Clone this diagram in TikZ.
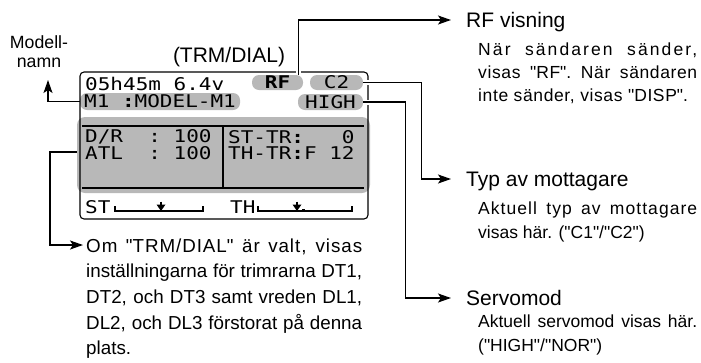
\documentclass[tikz,border=0pt]{standalone}
\usepackage{fontspec}
\setmainfont{Liberation Sans}
\newfontfamily\lcdfont[FakeStretch=1.2]{DejaVu Sans Mono}
\newcommand\qt{\textquotedbl}
\usetikzlibrary{positioning,arrows.meta}
\tikzset{
  lcd/.style={font=\lcdfont\fontsize{17.5}{17.5}\selectfont,inner sep=0pt,anchor=west},
  pill/.style={rectangle,rounded corners=7pt,fill=black!28,inner sep=0pt,minimum height=15pt,
    font=\lcdfont\fontsize{17.5}{17.5}\selectfont},
  ptr/.style={-{Stealth[length=13pt,width=9pt,inset=3pt]},line width=1.4pt},
  halo/.style={preaction={draw=white,line width=5pt,-}},
  head/.style={font=\fontsize{21}{21}\selectfont,inner xsep=15pt,inner ysep=0pt,
    text height=14pt,text depth=0pt,anchor=base west},
  desc/.style={inner sep=0pt,text width=219pt,align=justify,anchor=base west},
}

\begin{document}
\begin{tikzpicture}[x=1pt,y=-1pt,
   lcdline/.style={line width=2pt},
   trimbar/.style={line width=1.1pt}]
  \useasboundingbox (0,0) rectangle (701,362);
  \node[font=\fontsize{17.7}{19}\selectfont,align=center,inner sep=0pt,anchor=base] (modelname) at (39,67) {Modell-\\namn};
  \node[font=\fontsize{21}{21}\selectfont,inner sep=0pt,anchor=base] (trmdial) at (229,62) {(TRM/DIAL)};
  \node[rectangle,rounded corners=8pt,fill=black!28,minimum width=293pt,minimum height=76pt,inner sep=0pt] (panel) at (223.5,155) {};
  \node[lcd] (clock) at (85,83.5) {05h45m 6.4v};
  \node[pill,minimum width=51pt,font=\lcdfont\bfseries\fontsize{17.5}{17.5}\selectfont] (rf) at (277.5,82.5) {RF};
  \node[pill,minimum width=53pt] (c2) at (336.5,82.5) {C2};
  \node[pill,minimum width=160pt,minimum height=17pt] (m1) at (160,101.5) {M1~\textbf{:}MODEL-M1};
  \node[pill,minimum width=65pt,minimum height=16pt] (high) at (330.5,102) {HIGH};
  \node[lcd] (dr) at (85,137) {D/R~~:~100};
  \node[lcd] (atl) at (85,153) {ATL~~:~100};
  \node[lcd] (sttr) at (228,137) {ST-TR\textbf{:}~~~0};
  \node[lcd] (thtr) at (228,153) {TH-TR\textbf{:}F~12};
  \draw[lcdline] (82,126) -- (364,126);
  \draw[lcdline] (82,188) -- (364,188);
  \draw[lcdline] (223,126) -- (223,188);
  \node[lcd] (st) at (85,207) {ST};
  \node[lcd] (th) at (230,207) {TH};
  \foreach \a/\b/\m in {115/203/161,258/352/297}{
    \draw[trimbar] (\a,206) -- (\a,211) -- (\b,211) -- (\b,206);
    \fill (\m-4.5,204.5) -- (\m+4.5,204.5) -- (\m,211) -- cycle;
    \draw[trimbar] (\m,201.5) -- (\m,205);
  }
  \fill (302,209) rectangle (304.5,211);
  \draw[line width=1.1pt,rounded corners=4pt] (80,72) rectangle (368,219);
  \node[head] (rfhead) at (451,27) {RF visning};
  \node[head] (typhead) at (451,186) {Typ av mottagare};
  \node[head] (servohead) at (451,305) {Servomod};
  \node[desc,font=\fontsize{17.5}{23.3}\selectfont\addfontfeatures{LetterSpace=3.5}] (rfdesc) at (478,55)
    {{\addfontfeatures{LetterSpace=12}När sändaren sänder,}\linebreak visas \qt RF\qt. När sändaren\linebreak inte sänder, visas \qt DISP\qt.};
  \node[desc,font=\fontsize{17.5}{24}\selectfont] (typdesc) at (478,214)
    {{\addfontfeatures{LetterSpace=6}Aktuell typ av mottagare}\linebreak visas här. (\qt C1\qt/\qt C2\qt)};
  \node[desc,font=\fontsize{17.5}{24}\selectfont] (servodesc) at (478,327)
    {Aktuell servomod visas här.\linebreak (\qt HIGH\qt/\qt NOR\qt)};
  \node[desc,text width=276pt,font=\fontsize{18.8}{25.7}\selectfont] (omtext) at (86,252)
    {{\addfontfeatures{LetterSpace=5}Om \qt TRM/DIAL\qt{} är valt, visas}\linebreak inställningarna för trimrarna DT1,\linebreak DT2, och DT3 samt vreden DL1,\linebreak DL2, och DL3 förstorat på denna\linebreak plats.};
  \coordinate (mtip) at (48,80);
  \draw[ptr] (m1.west) -| (mtip);
  \draw[ptr,halo] ([xshift=21pt]rf.north) |- (rfhead.west);
  \draw[ptr,halo] (c2.east) -- ++(58,0) |- (typhead.west);
  \draw[ptr,halo] (high.east) -- ++(42,0) |- (servohead.west);
  \draw[ptr] ([yshift=3pt]panel.west) -- ++(-27,0) |- ([xshift=-3pt,yshift=7pt]omtext.base west);
\end{tikzpicture}
\end{document}
